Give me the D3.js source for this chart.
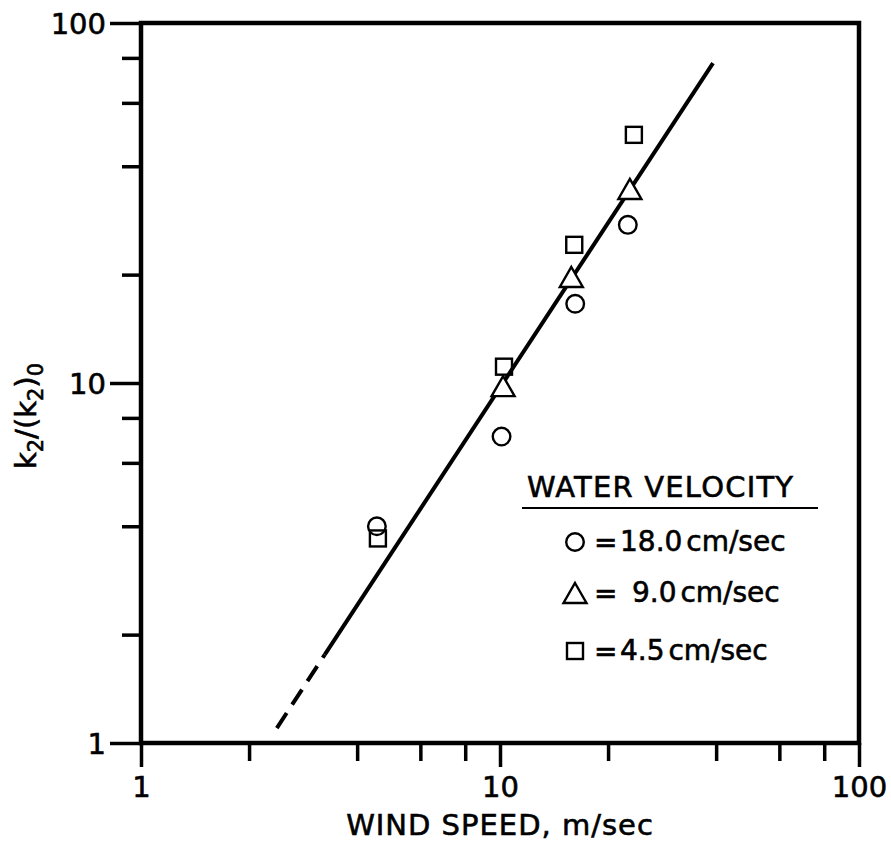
<!DOCTYPE html>
<html>
<head>
<meta charset="utf-8">
<script src="https://cdn.jsdelivr.net/npm/d3@7"></script>
<style>
  html, body { margin: 0; padding: 0; background: #fff; }
  svg { display: block; font-family: "DejaVu Sans", "Liberation Sans", sans-serif; }
  svg text { fill: #000; stroke: #000; stroke-width: 0.6px; font-family: "DejaVu Sans", "Liberation Sans", sans-serif; }
</style>
</head>
<body>
<svg id="chart" width="891" height="851"></svg>
<script>
// Reaeration ratio versus wind speed, three water velocities
const tickValues = [1, 2, 4, 6, 8, 10, 20, 40, 60, 80, 100];
const majorTicks = [1, 10, 100];

const circleSpeed = [4.54, 10.1, 16.2, 22.7];   // 18.0 cm/sec
const circleRatio = [4.0, 7.1, 16.6, 27.5];
const triangleSpeed = [10.2, 15.8, 23.0];        // 9.0 cm/sec
const triangleRatio = [9.8, 19.7, 34.6];
const squareSpeed = [4.57, 10.26, 16.1, 23.6];   // 4.5 cm/sec
const squareRatio = [3.7, 11.1, 24.2, 48.9];

// fitted line: dashed extrapolation then solid part
const fitSpeed = [2.39, 3.25, 39.2];
const fitRatio = [1.10, 1.76, 77.4];

const legendLabels = ["18.0 cm/sec", "9.0 cm/sec", "4.5 cm/sec"];

const svg = d3.select("#chart");
const plotLeft = 141, plotRight = 859, plotTop = 23, plotBottom = 743;

const x = d3.scaleLog().domain([1, 100]).range([plotLeft, plotRight]);
const y = d3.scaleLog().domain([1, 100]).range([plotBottom, plotTop]);

// bottom axis
const xAxis = svg.append("g")
  .attr("transform", `translate(0,${plotBottom})`)
  .call(d3.axisBottom(x).tickValues(tickValues)
    .tickFormat(d => majorTicks.includes(d) ? String(d) : "")
    .tickSizeOuter(0))
  .attr("font-size", 29).attr("font-family", null);
xAxis.select(".domain").remove();
xAxis.selectAll(".tick line")
  .attr("stroke", "#000").attr("stroke-width", 3.5)
  .attr("y2", d => majorTicks.includes(d) ? 24 : 18);
xAxis.selectAll(".tick text")
  .attr("y", 33).attr("dy", "0.71em");

// left axis
const yAxis = svg.append("g")
  .attr("transform", `translate(${plotLeft},0)`)
  .call(d3.axisLeft(y).tickValues(tickValues)
    .tickFormat(d => majorTicks.includes(d) ? String(d) : "")
    .tickSizeOuter(0))
  .attr("font-size", 29).attr("font-family", null);
yAxis.select(".domain").remove();
yAxis.selectAll(".tick line")
  .attr("stroke", "#000").attr("stroke-width", 3.5)
  .attr("x2", d => majorTicks.includes(d) ? -31 : -19);
yAxis.selectAll(".tick text")
  .attr("x", -35).attr("dy", "0.36em");

// frame
svg.append("rect")
  .attr("x", plotLeft).attr("y", plotTop)
  .attr("width", plotRight - plotLeft).attr("height", plotBottom - plotTop)
  .attr("fill", "none").attr("stroke", "#000").attr("stroke-width", 4.5);

// fitted line
const line = d3.line().x(d => x(d[0])).y(d => y(d[1]));
const fitPts = fitSpeed.map((s, i) => [s, fitRatio[i]]);
svg.append("path")
  .attr("d", line(fitPts.slice(0, 2)))
  .attr("fill", "none").attr("stroke", "#000").attr("stroke-width", 4)
  .attr("stroke-dasharray", "18,10");
svg.append("path")
  .attr("d", line(fitPts.slice(1)))
  .attr("fill", "none").attr("stroke", "#000").attr("stroke-width", 4);

// marker shapes
const triPath = "M0,-10L11.5,10L-11.5,10Z";
function drawCircle(g, cx, cy) {
  g.append("circle").attr("cx", cx).attr("cy", cy).attr("r", 8.8)
    .attr("fill", "none").attr("stroke", "#000").attr("stroke-width", 2.4);
}
function drawTriangle(g, cx, cy) {
  g.append("path").attr("d", triPath).attr("transform", `translate(${cx},${cy})`)
    .attr("fill", "#fff").attr("stroke", "#000").attr("stroke-width", 2.4)
    .attr("stroke-linejoin", "miter");
}
function drawSquare(g, cx, cy) {
  g.append("rect").attr("x", cx - 8).attr("y", cy - 8).attr("width", 16).attr("height", 16)
    .attr("fill", "none").attr("stroke", "#000").attr("stroke-width", 2.4);
}

const marks = svg.append("g");
circleSpeed.forEach((s, i) => drawCircle(marks, x(s), y(circleRatio[i])));
triangleSpeed.forEach((s, i) => drawTriangle(marks, x(s), y(triangleRatio[i])));
squareSpeed.forEach((s, i) => drawSquare(marks, x(s), y(squareRatio[i])));

// axis titles
svg.append("text")
  .attr("x", 500).attr("y", 835)
  .attr("text-anchor", "middle")
  .style("font-size", "29px").style("letter-spacing", "1px")
  .text("WIND SPEED, m/sec");

const yTitle = svg.append("text")
  .attr("transform", "translate(36,416) rotate(-90)")
  .attr("text-anchor", "middle")
  .style("font-size", "29px");
yTitle.append("tspan").text("k");
yTitle.append("tspan").attr("dy", 7).style("font-size", "21px").text("2");
yTitle.append("tspan").attr("dy", -7).text("/(k");
yTitle.append("tspan").attr("dy", 7).style("font-size", "21px").text("2");
yTitle.append("tspan").attr("dy", -7).text(")");
yTitle.append("tspan").attr("dy", 7).style("font-size", "21px").text("0");

// legend
const legend = svg.append("g");
legend.append("text")
  .attr("x", 527).attr("y", 497)
  .style("font-size", "29px").style("letter-spacing", "1.2px")
  .text("WATER VELOCITY");
legend.append("line")
  .attr("x1", 522).attr("x2", 818).attr("y1", 508).attr("y2", 508)
  .attr("stroke", "#000").attr("stroke-width", 2.2);

const rowY = [542, 593, 651];
const textX = [620, 632, 620];
const drawers = [drawCircle, drawTriangle, drawSquare];
legendLabels.forEach((lab, i) => {
  drawers[i](legend, 575, rowY[i]);
  legend.append("text")
    .attr("x", 594).attr("y", rowY[i] + 10)
    .style("font-size", "28px")
    .text("=");
  legend.append("text")
    .attr("x", textX[i]).attr("y", rowY[i] + 9)
    .style("font-size", "28px").style("word-spacing", "-5px")
    .text(lab);
});
</script>
</body>
</html>
